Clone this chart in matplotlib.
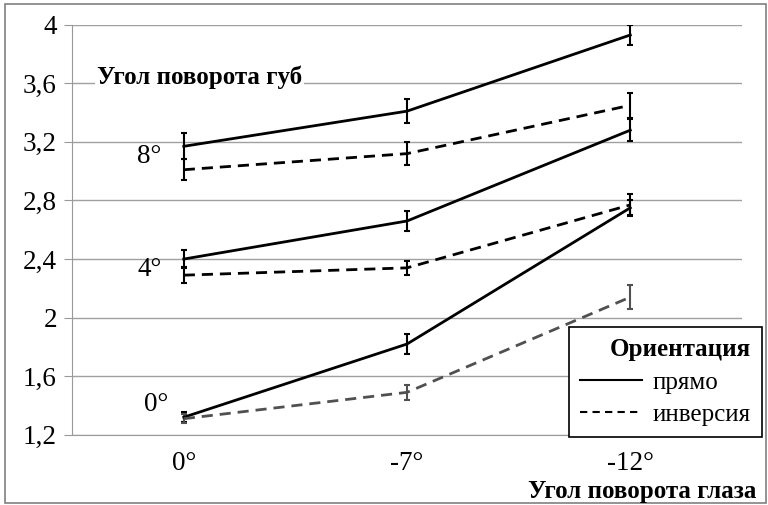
import matplotlib.pyplot as plt
from matplotlib.patches import Rectangle

plt.rcParams['font.family'] = ['Liberation Serif', 'DejaVu Serif']

# data
eye_angles = ["0°", "-7°", "-12°"]
lip_angles = ["8°", "4°", "0°"]

direct = {
    "8°": [3.17, 3.41, 3.93],
    "4°": [2.40, 2.66, 3.28],
    "0°": [1.32, 1.82, 2.75],
}
direct_err = {
    "8°": [0.09, 0.08, 0.07],
    "4°": [0.06, 0.065, 0.075],
    "0°": [0.035, 0.07, 0.05],
}
inverse = {
    "8°": [3.01, 3.12, 3.45],
    "4°": [2.29, 2.34, 2.77],
    "0°": [1.31, 1.49, 2.14],
}
inverse_err = {
    "8°": [0.07, 0.08, 0.085],
    "4°": [0.055, 0.05, 0.075],
    "0°": [0.03, 0.05, 0.08],
}
y_ticks = [1.2, 1.6, 2.0, 2.4, 2.8, 3.2, 3.6, 4.0]

FS = 18
TICK_FS = 19.5

fig = plt.figure(figsize=(7.68, 5.05), dpi=100)
ax = fig.add_axes([0.094, 0.139, 0.872, 0.812])

x = range(len(eye_angles))
for lip in lip_angles:
    ax.errorbar(x, direct[lip], yerr=direct_err[lip], color="black", lw=2,
                capsize=2.5, elinewidth=1.5, capthick=1.5, zorder=3)
    inv_color = "#505050" if lip == "0°" else "black"
    ax.errorbar(x, inverse[lip], yerr=inverse_err[lip], color=inv_color, lw=2,
                ls=(0, (4, 2.5)), capsize=2.5, elinewidth=1.5, capthick=1.5, zorder=3)

# labels for lip rotation
label_pos = {"8°": (-0.10, 3.10), "4°": (-0.10, 2.33), "0°": (-0.07, 1.41)}
for lip in lip_angles:
    lx, ly = label_pos[lip]
    ax.text(lx, ly, lip, fontsize=TICK_FS, ha="right", va="center")

ax.text(0.037, 3.64, "Угол поворота губ", fontsize=FS, fontweight="bold",
        va="center", ha="left", transform=ax.get_yaxis_transform(),
        bbox=dict(facecolor="white", edgecolor="none", pad=1))

ax.set_xlim(-0.5, 2.5)
ax.set_ylim(1.2, 4.0)
ax.set_yticks(y_ticks)
ax.set_yticklabels([f"{v:.1f}".replace(".", ",").replace(",0", "") for v in y_ticks])
ax.set_xticks(list(x))
ax.set_xticklabels(eye_angles)
ax.tick_params(axis="y", length=6, color="#999999", labelsize=TICK_FS, pad=5)
ax.tick_params(axis="x", length=0, labelsize=TICK_FS, pad=12)
ax.grid(axis="y", color="#A0A0A0", lw=1)
ax.set_axisbelow(True)
for s in ["top", "right"]:
    ax.spines[s].set_visible(False)
for s in ["left", "bottom"]:
    ax.spines[s].set_color("#999999")

# legend
h1, = ax.plot([], [], color="black", lw=1.5)
h2, = ax.plot([], [], color="black", lw=1.5, ls=(0, (3.5, 2.5)))
leg = fig.legend([h1, h2], ["прямо", "инверсия"], title="Ориентация",
                 loc="lower right", bbox_to_anchor=(0.992, 0.134),
                 fontsize=FS, title_fontproperties={"weight": "bold", "size": FS},
                 frameon=True, fancybox=False, edgecolor="black",
                 handlelength=2.5, handletextpad=0.4, borderpad=0.45,
                 labelspacing=0.4, borderaxespad=0,
                 alignment="right", framealpha=1)
leg.get_frame().set_linewidth(1.2)

fig.text(0.985, 0.026, "Угол поворота глаза", fontsize=FS, fontweight="bold",
         ha="right", va="center")

fig.patches.append(Rectangle((0.007, 0.004), 0.99, 0.988, transform=fig.transFigure,
                             fill=False, edgecolor="#808080", lw=1.2))

fig.savefig("out.png", dpi=100)
